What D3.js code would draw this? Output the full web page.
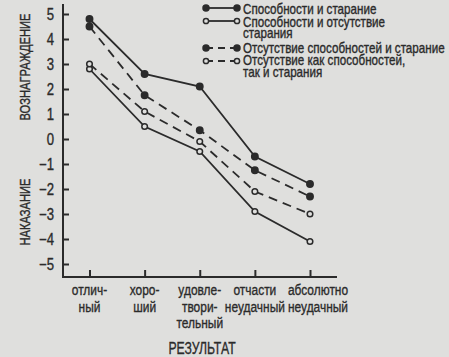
<!DOCTYPE html>
<html><head><meta charset="utf-8">
<script src="https://cdn.jsdelivr.net/npm/d3@7"></script>
<style>
html,body{margin:0;padding:0;background:#dfdfdd;}
svg{display:block;}
text{font-family:"Liberation Sans",Arial,sans-serif;fill:#2b2b2b;stroke:#2b2b2b;stroke-width:0.35px;}
</style></head><body>
<svg id="c" width="449" height="357"></svg>
<script>
const categories = [["отлич-","ный"],["хоро-","ший"],["удовле-","твори-","тельный"],["отчасти","неудачный"],["абсолютно","неудачный"]];
const yTicks = [5,4,3,2,1,0,-1,-2,-3,-4,-5];
const seriesNames = [["Способности и старание"],["Способности и отсутствие","старания"],["Отсутствие способностей и старание"],["Отсутствие как способностей,","так и старания"]];
const s1 = [4.8, 2.6, 2.1, -0.7, -1.8];
const s2 = [2.8, 0.5, -0.5, -2.9, -4.1];
const s3 = [4.5, 1.75, 0.35, -1.25, -2.3];
const s4 = [3.0, 1.1, -0.1, -2.1, -3.0];
const seriesValues = [s1, s2, s3, s4];
const seriesDashed = [false, false, true, true];
const seriesFilled = [true, false, true, false];

const svg = d3.select("#c");
const ink = "#2b2b2b", bg = "#dfdfdd";
function txt(parent, px, py, str, size, sx, anchor, rot){
  return parent.append("text")
    .attr("transform",`translate(${px},${py})${rot?" rotate("+rot+")":""} scale(${sx},1)`)
    .attr("text-anchor",anchor||"start").style("font-size",size+"px").text(str);
}
const x = d3.scalePoint().domain(d3.range(categories.length)).range([89.5, 310]);
const y = d3.scaleLinear().domain([-5,5]).range([264,14]);
const axisX0 = 63, axisY0 = 277;

// y axis
svg.append("line").attr("x1",axisX0).attr("x2",axisX0).attr("y1",4).attr("y2",axisY0)
  .attr("stroke",ink).attr("stroke-width",2);
const gy = svg.append("g").attr("transform",`translate(${axisX0},0)`)
  .call(d3.axisRight(y).tickValues(yTicks).tickSize(6).tickFormat(""));
gy.select(".domain").remove();
gy.selectAll("line").attr("stroke",ink).attr("stroke-width",2);
yTicks.forEach(d=>txt(svg, 54, y(d)+5.5, d<0 ? "\u2212"+Math.abs(d) : String(d), 16, 0.82, "end"));

// x axis
svg.append("line").attr("x1",axisX0-1).attr("x2",337).attr("y1",axisY0).attr("y2",axisY0)
  .attr("stroke",ink).attr("stroke-width",2);
const gx = svg.append("g").attr("transform",`translate(0,${axisY0})`)
  .call(d3.axisTop(x).tickSize(7).tickFormat(""));
gx.select(".domain").remove();
gx.selectAll("line").attr("stroke",ink).attr("stroke-width",2);
categories.forEach((lines,i)=>{
  lines.forEach((l,j)=>txt(svg, x(i)+(i===4?8:0), 295+j*16.5, l, 15.5, 0.77, "middle"));
});

// axis titles
txt(svg, 30, 67, "ВОЗНАГРАЖДЕНИЕ", 15.5, 0.72, "middle", -90);
txt(svg, 30, 212, "НАКАЗАНИЕ", 15.5, 0.72, "middle", -90);
txt(svg, 202, 354, "РЕЗУЛЬТАТ", 17, 0.72, "middle");

// series
const line = d3.line().x((d,i)=>x(i)).y(d=>y(d));
seriesValues.forEach((vals,k)=>{
  svg.append("path").attr("d",line(vals)).attr("fill","none").attr("stroke",ink)
    .attr("stroke-width",1.8).attr("stroke-dasharray",seriesDashed[k]?"9,6":null);
  svg.selectAll(".m"+k).data(vals).join("circle")
    .attr("cx",(d,i)=>x(i)).attr("cy",d=>y(d)).attr("r",seriesFilled[k]?3.2:2.8)
    .attr("fill",seriesFilled[k]?ink:bg).attr("stroke",ink).attr("stroke-width",1.5);
});

// legend
const legLineY = [8, 21, 48, 61];
const legTextY = [[14],[26.5,38],[53],[65,76.5]];
seriesNames.forEach((lines,k)=>{
  const ly = legLineY[k];
  svg.append("line").attr("x1",206).attr("x2",237).attr("y1",ly).attr("y2",ly)
    .attr("stroke",ink).attr("stroke-width",1.8).attr("stroke-dasharray",seriesDashed[k]?"7,5":null);
  [206,237].forEach(cx=>svg.append("circle").attr("cx",cx).attr("cy",ly).attr("r",seriesFilled[k]?3:2.6)
    .attr("fill",seriesFilled[k]?ink:bg).attr("stroke",ink).attr("stroke-width",1.5));
  lines.forEach((l,j)=>txt(svg, 243, legTextY[k][j], l, 14, 0.83, "start"));
});
</script>
</body></html>
